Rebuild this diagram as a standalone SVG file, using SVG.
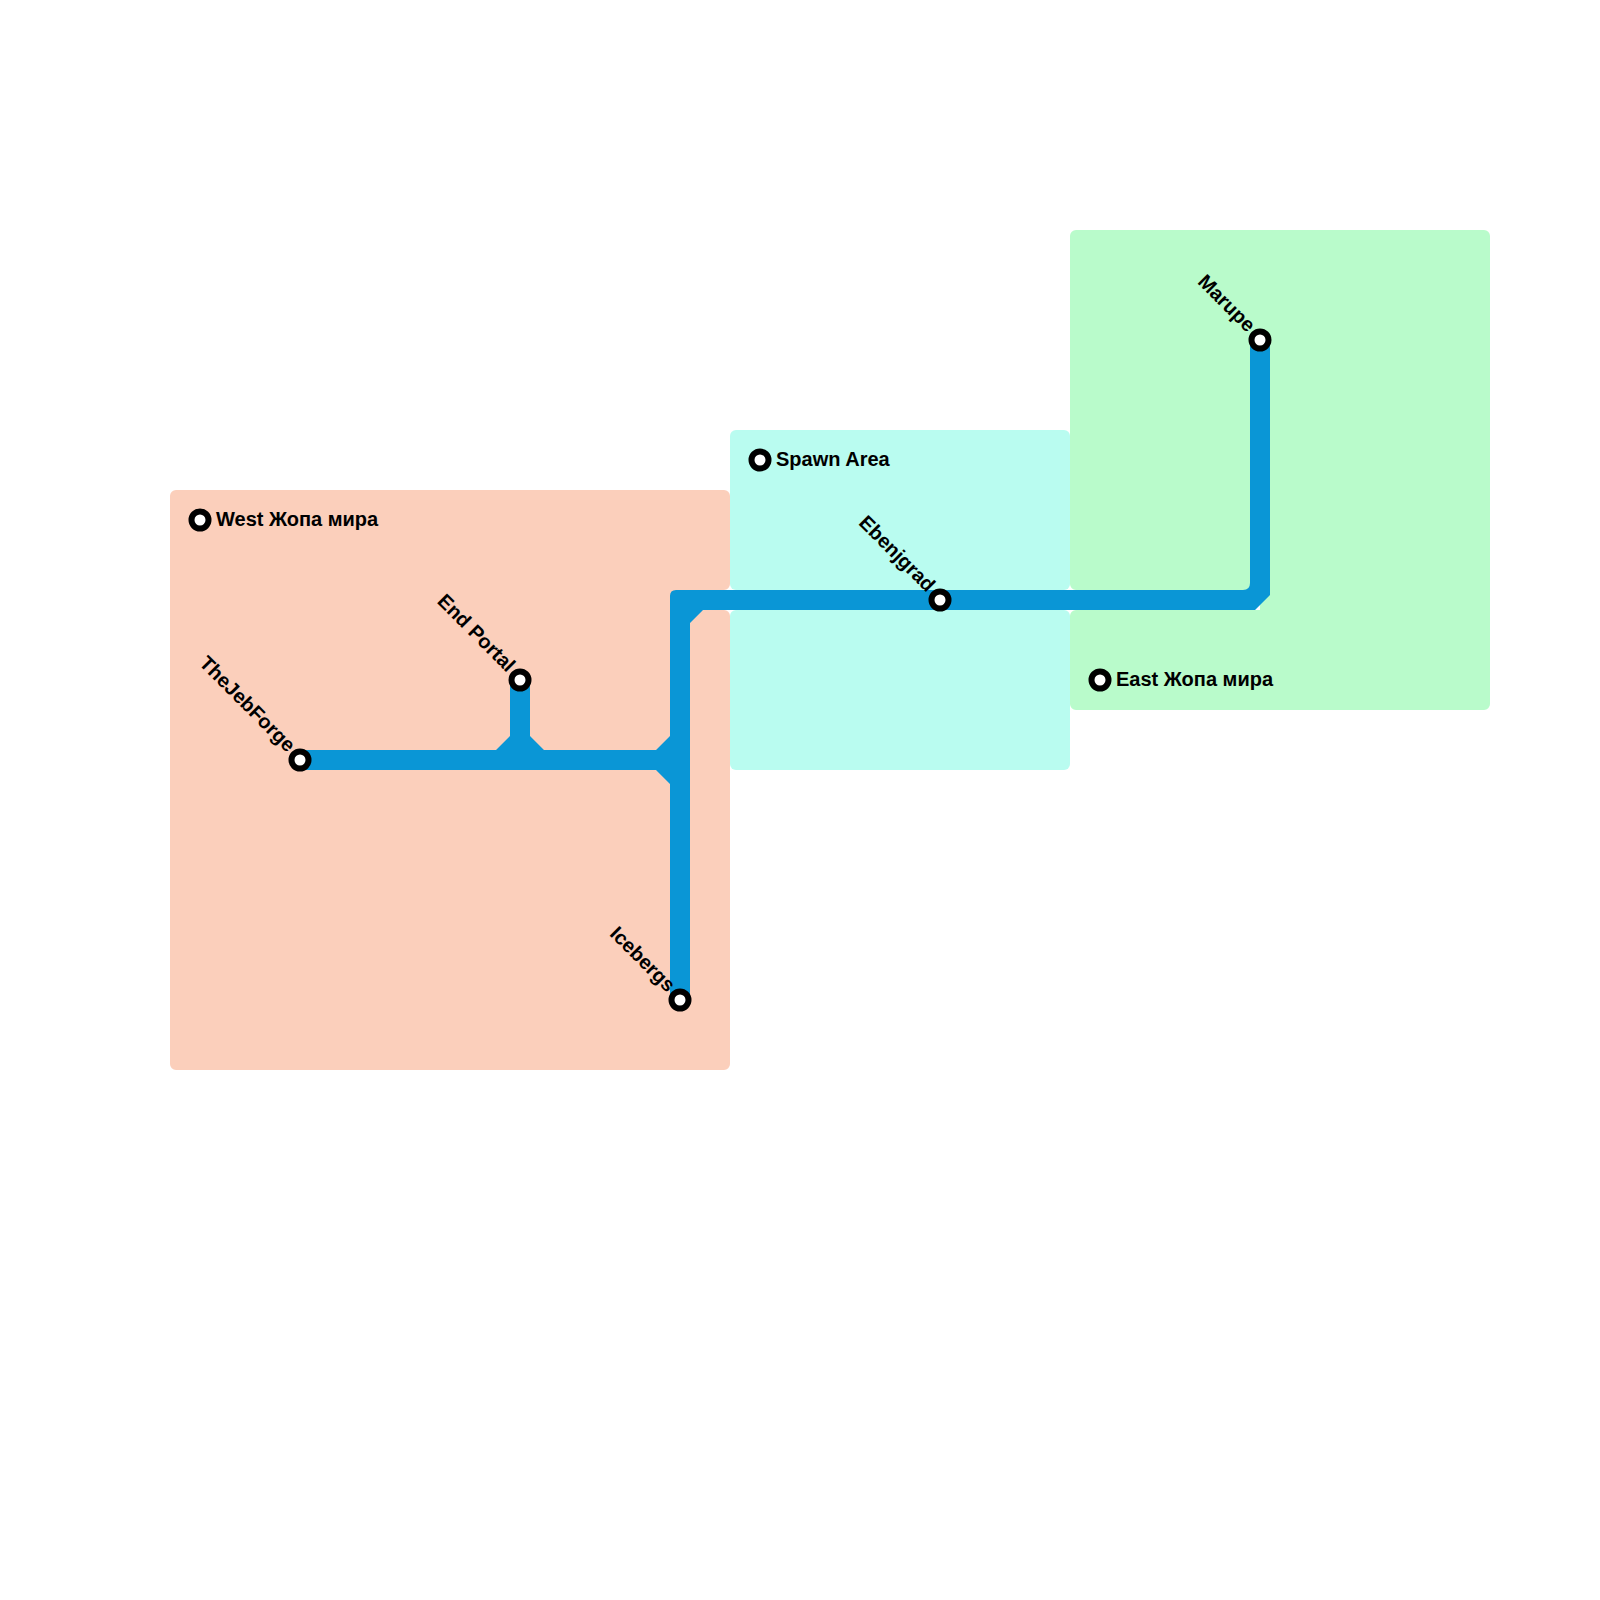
<svg xmlns="http://www.w3.org/2000/svg" width="1600" height="1600" viewBox="0 0 1600 1600">
<style>
.stn{fill:#fff;stroke:#000;stroke-width:6}
.lbl{font-family:"Liberation Sans",Arial,sans-serif;font-weight:bold;font-size:20px;fill:#000}
.diag{text-anchor:end}
.line{fill:#0A96D6}
</style>
<rect width="1600" height="1600" fill="#fff"/>
<g id="areas">
<path id="west-area" fill="#FBCFBB" d="M176,490 H724 A6,6 0 0 1 730,496 V584 A6,6 0 0 1 724,590 H690 V610 H724 A6,6 0 0 1 730,616 V1064 A6,6 0 0 1 724,1070 H176 A6,6 0 0 1 170,1064 V496 A6,6 0 0 1 176,490 Z"/>
<g id="spawn-area" fill="#B9FCF0">
<rect x="730" y="430" width="340" height="160" rx="6"/>
<rect x="730" y="610" width="340" height="160" rx="6"/>
</g>
<path id="east-area" fill="#B9FBCB" d="M1076,230 H1484 A6,6 0 0 1 1490,236 V704 A6,6 0 0 1 1484,710 H1076 A6,6 0 0 1 1070,704 V616 A6,6 0 0 1 1076,610 H1260 V590 H1076 A6,6 0 0 1 1070,584 V236 A6,6 0 0 1 1076,230 Z"/>
</g>
<g id="connectors">
<path class="line" d="M1250,340 H1270 V595 L1255,610 H703 L690,623 V1000 H670 V596 Q670,590 676,590 H1243 Q1250,590 1250,583 Z"/>
<path class="line" d="M300,750 H496 L510,736 V680 H530 V736 L544,750 H656 L670,736 V784 L656,770 H300 Z"/>
</g>
<g id="west-zhopa"><circle class="stn" cx="200" cy="520" r="8.5"/><text class="lbl" x="216" y="525.5">West Жопа мира</text></g>
<g id="spawn"><circle class="stn" cx="760" cy="460" r="8.5"/><text class="lbl" x="776" y="465.5">Spawn Area</text></g>
<g id="east-zhopa"><circle class="stn" cx="1100" cy="680" r="8.5"/><text class="lbl" x="1116" y="685.5">East Жопа мира</text></g>
<g id="thejebforge"><circle class="stn" cx="300" cy="760" r="8.5"/><text class="lbl diag" transform="translate(287,753) rotate(45)">TheJebForge</text></g>
<g id="endportal"><circle class="stn" cx="520" cy="680" r="8.5"/><text class="lbl diag" transform="translate(507,673) rotate(45)">End Portal</text></g>
<g id="icebergs"><circle class="stn" cx="680" cy="1000" r="8.5"/><text class="lbl diag" transform="translate(667,993) rotate(45)">Icebergs</text></g>
<g id="ebenjgrad"><circle class="stn" cx="940" cy="600" r="8.5"/><text class="lbl diag" transform="translate(927,593) rotate(45)">Ebenjgrad</text></g>
<g id="marupe"><circle class="stn" cx="1260" cy="340" r="8.5"/><text class="lbl diag" transform="translate(1247,333) rotate(45)">Marupe</text></g>
</svg>
